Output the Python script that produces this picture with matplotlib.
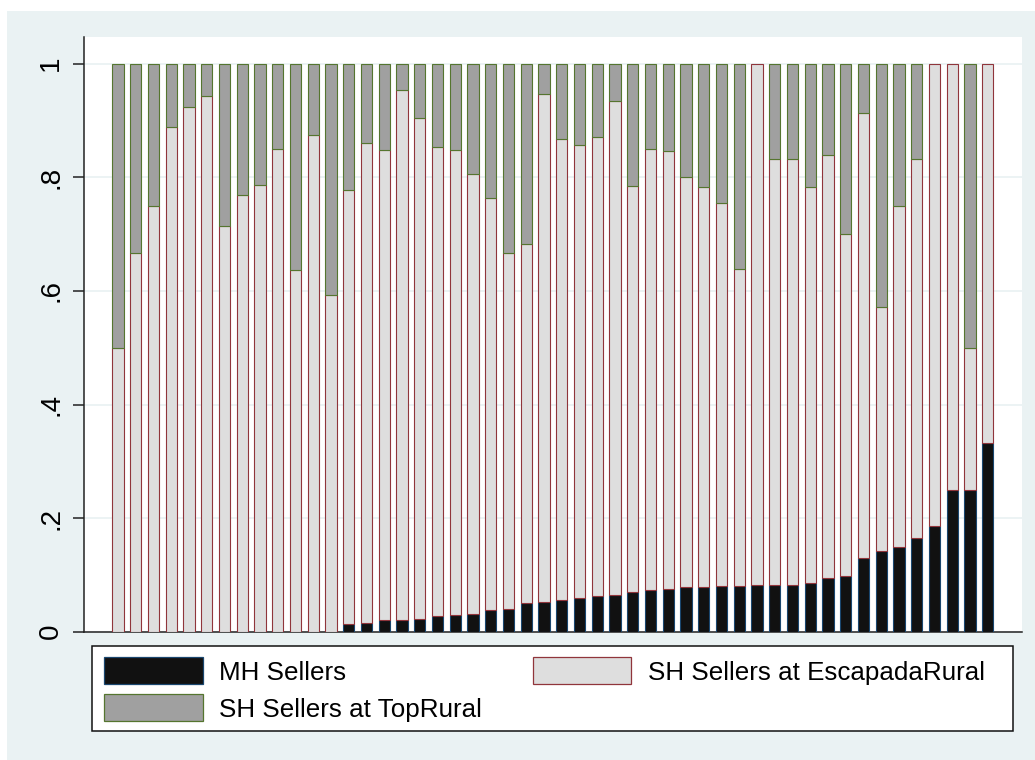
import numpy as np
import matplotlib
matplotlib.use("Agg")
import matplotlib.pyplot as plt
from matplotlib.patches import Rectangle

plt.rcParams['font.family'] = ['Liberation Sans', 'DejaVu Sans']

# Share of sellers in each market, one bar per market
mh_sellers = [0, 0, 0, 0, 0, 0, 0, 0, 0, 0, 0, 0, 0,
              0.014, 0.016, 0.020, 0.021, 0.022, 0.028, 0.029, 0.031, 0.038,
              0.040, 0.051, 0.052, 0.055, 0.059, 0.063, 0.065, 0.070, 0.073,
              0.075, 0.078, 0.079, 0.080, 0.080, 0.082, 0.082, 0.082, 0.086,
              0.095, 0.098, 0.129, 0.142, 0.149, 0.165, 0.186, 0.25, 0.25, 0.333]
sh_escapada = [0.5, 0.667, 0.75, 0.889, 0.923, 0.944, 0.714, 0.769, 0.786, 0.85,
               0.636, 0.875, 0.593, 0.764, 0.844, 0.828, 0.933, 0.883, 0.825,
               0.819, 0.775, 0.726, 0.627, 0.632, 0.894, 0.813, 0.798, 0.808,
               0.869, 0.715, 0.776, 0.771, 0.722, 0.704, 0.675, 0.559, 0.918,
               0.751, 0.751, 0.697, 0.744, 0.602, 0.784, 0.429, 0.601, 0.668,
               0.814, 0.75, 0.25, 0.667]
sh_toprural = [0.5, 0.333, 0.25, 0.111, 0.077, 0.056, 0.286, 0.231, 0.214, 0.15,
               0.364, 0.125, 0.407, 0.222, 0.14, 0.152, 0.046, 0.095, 0.147,
               0.152, 0.194, 0.236, 0.333, 0.317, 0.054, 0.132, 0.143, 0.129,
               0.066, 0.215, 0.151, 0.154, 0.2, 0.217, 0.245, 0.361, 0.0,
               0.167, 0.167, 0.217, 0.161, 0.3, 0.087, 0.429, 0.25, 0.167,
               0.0, 0.0, 0.5, 0.0]
series_labels = ["MH Sellers", "SH Sellers at EscapadaRural", "SH Sellers at TopRural"]
y_ticks = [0, 0.2, 0.4, 0.6, 0.8, 1.0]
y_ticklabels = ["0", ".2", ".4", ".6", ".8", "1"]

fill_colors = ["#111111", "#DEDEDE", "#A0A0A0"]
edge_colors = ["#1A476F", "#90353B", "#55752F"]
BG = "#EAF2F3"

W, H = 1035, 760
fig = plt.figure(figsize=(W / 100, H / 100), dpi=100, facecolor="white")


def fx(px):
    return px / W


def fy(py):
    return 1 - py / H


# outer graph region
fig.patches.append(Rectangle((fx(7), 0), 1 - fx(7), fy(11), transform=fig.transFigure,
                             facecolor=BG, edgecolor="none", zorder=-10))

ax = fig.add_axes([fx(84), fy(631.7), fx(1022) - fx(84), fy(37.3) - fy(631.7)])
ax.set_facecolor("white")

mh = np.array(mh_sellers)
er = np.array(sh_escapada)
tr = np.array(sh_toprural)
x = np.arange(len(mh))
width = 0.637

layers = [(mh, np.zeros_like(mh)), (er, mh), (tr, mh + er)]
for (vals, base), fc, ec in zip(layers, fill_colors, edge_colors):
    lw = np.where(vals > 0, 0.8, 0.0)
    ax.bar(x, vals, width=width, bottom=base, color=fc, edgecolor=ec,
           linewidth=lw, zorder=3)

ax.set_xlim(-1.915, 50.93)
ax.set_ylim(0, 1.0465)
ax.set_yticks(y_ticks)
ax.set_yticklabels(y_ticklabels, rotation=90, va="center", fontsize=20)
ax.set_xticks([])
ax.yaxis.grid(True, color=BG, linewidth=1.3, zorder=0)
ax.set_axisbelow(True)
ax.tick_params(axis="y", direction="out", length=7.7, width=1.1, color="#222222", pad=6.5)
for side in ("top", "right"):
    ax.spines[side].set_visible(False)
for side in ("left", "bottom"):
    ax.spines[side].set_color("#222222")
    ax.spines[side].set_linewidth(1.1)

# legend
fig.patches.append(Rectangle((fx(92.3), fy(731)), fx(1012.7) - fx(92.3), fy(645.7) - fy(731),
                             transform=fig.transFigure, facecolor="white",
                             edgecolor="#111111", linewidth=1.1, zorder=1))
legend_items = [
    (0, 104, 657.3, 219),
    (1, 532.7, 657.3, 647.7),
    (2, 104, 694.0, 219),
]
for idx, kx, ky, tx in legend_items:
    fig.patches.append(Rectangle((fx(kx), fy(ky + 26.7)), fx(98.7), 26.7 / H,
                                 transform=fig.transFigure, facecolor=fill_colors[idx],
                                 edgecolor=edge_colors[idx], linewidth=0.9, zorder=2))
    fig.text(fx(tx), fy(ky + 22.7), series_labels[idx], fontsize=18.7,
             ha="left", va="baseline", color="black", zorder=3)

fig.savefig("out.png", dpi=100, facecolor=fig.get_facecolor())
